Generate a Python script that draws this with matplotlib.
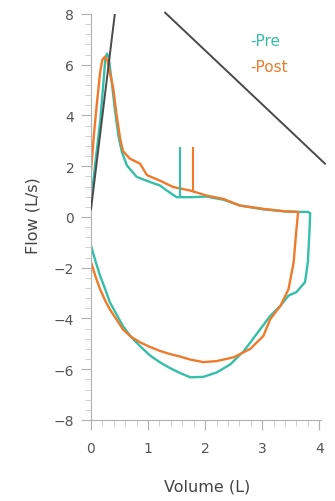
import numpy as np
import matplotlib
matplotlib.use('Agg')
import matplotlib.pyplot as plt

# flow-volume loops (volume in L, flow in L/s)
pre_vol = [0.0, 0.08, 0.16, 0.21, 0.25, 0.28, 0.31, 0.36, 0.42, 0.48, 0.54, 0.63, 0.8, 1.03, 1.21, 1.33,
           1.5, 1.74, 2.03, 2.32, 2.61, 3.02, 3.4, 3.63, 3.8, 3.84,
           3.83, 3.8, 3.75, 3.6, 3.46, 3.32, 3.14, 2.9, 2.68, 2.44, 2.2, 1.97,
           1.74, 1.56, 1.38, 1.21, 1.03, 0.86, 0.7, 0.56, 0.45, 0.33, 0.25, 0.16, 0.08, 0.0]
pre_flow = [0.6, 2.2, 3.75, 5.06, 6.2, 6.44, 6.3, 5.4, 4.2, 3.2, 2.57, 2.03, 1.58, 1.38, 1.24, 1.04,
            0.78, 0.78, 0.8, 0.68, 0.45, 0.3, 0.22, 0.2, 0.2, 0.15,
            -0.47, -1.78, -2.57, -2.96, -3.1, -3.5, -3.9, -4.62, -5.28, -5.81, -6.13, -6.3,
            -6.32, -6.15, -5.95, -5.73, -5.45, -5.09, -4.72, -4.3, -3.85, -3.36, -2.85, -2.32, -1.75, -1.13]

post_vol = [0.0, 0.05, 0.1, 0.16, 0.2, 0.245, 0.29, 0.33, 0.39, 0.45, 0.51, 0.56, 0.68, 0.86, 0.98,
            1.21, 1.44, 1.74, 2.03, 2.32, 2.61, 3.02, 3.4, 3.63,
            3.6, 3.55, 3.46, 3.32, 3.14, 3.02, 2.79, 2.5, 2.2, 1.97,
            1.74, 1.56, 1.38, 1.21, 1.03, 0.86, 0.7, 0.56, 0.45, 0.33, 0.25, 0.16, 0.08, 0.0]
post_flow = [1.8, 3.2, 4.4, 5.7, 6.2, 6.32, 6.15, 5.7, 5.06, 4.0, 3.1, 2.6, 2.3, 2.1, 1.65,
             1.43, 1.18, 1.04, 0.84, 0.71, 0.45, 0.32, 0.22, 0.2,
             -0.47, -1.8, -2.85, -3.5, -4.03, -4.69, -5.2, -5.53, -5.68, -5.72,
             -5.62, -5.5, -5.4, -5.28, -5.12, -4.94, -4.72, -4.43, -4.05, -3.64, -3.3, -2.85, -2.35, -1.78]

# marker spikes (volume, base flow, top flow)
pre_mark = (1.56, 0.78, 2.76)
post_mark = (1.78, 1.02, 2.76)

# grey reference lines
line1_vol = [0.0, 0.45]
line1_flow = [0.3, 8.6]
line2_vol = [1.3, 4.1]
line2_flow = [8.05, 2.1]

teal = '#35bfa8'
orange = '#f07a2c'

fig = plt.figure(figsize=(3.35, 5.02), dpi=100)
ax = fig.add_axes([0.2716, 0.1614, 0.6866, 0.8088])

ax.plot(line1_vol, line1_flow, color='#4a4a4a', lw=1.4, zorder=3)
ax.plot(line2_vol, line2_flow, color='#4a4a4a', lw=1.4, zorder=3, clip_on=False)

ax.plot(pre_vol, pre_flow, color=teal, lw=1.7, solid_joinstyle='round')
ax.plot(post_vol, post_flow, color=orange, lw=1.7, solid_joinstyle='round')
ax.vlines(pre_mark[0], pre_mark[1], pre_mark[2], color=teal, lw=1.5)
ax.vlines(post_mark[0], post_mark[1], post_mark[2], color=orange, lw=1.5)

ax.text(2.79, 6.96, '-Pre', color=teal, fontsize=11, va='center', ha='left')
ax.text(2.79, 5.93, '-Post', color=orange, fontsize=11, va='center', ha='left')

ax.set_xlim(0, 4.03)
ax.set_ylim(-8, 8)
ax.set_xticks([0, 1, 2, 3, 4])
ax.set_yticks([-8, -6, -4, -2, 0, 2, 4, 6, 8])
ax.set_xticks(np.arange(0, 4.03, 0.2), minor=True)
ax.set_yticks(np.arange(-8, 8.01, 0.4), minor=True)

for s in ['top', 'right']:
    ax.spines[s].set_visible(False)
for s in ['left', 'bottom']:
    ax.spines[s].set_color('#b0b0b0')
ax.tick_params(which='major', length=7, color='#b0b0b0', labelcolor='#555555', labelsize=10)
ax.tick_params(axis='y', which='major', pad=5)
ax.tick_params(axis='x', which='major', pad=8)
ax.tick_params(which='minor', length=4, color='#c8c8c8')

fig.text(33 / 335, 1 - 216 / 502, 'Flow (L/s)', rotation=90, ha='center', va='center',
         fontsize=11.5, color='#444444')
fig.text(207 / 335, 1 - 487 / 502, 'Volume (L)', ha='center', va='center',
         fontsize=11.5, color='#444444')

fig.savefig('out.png', dpi=100)
